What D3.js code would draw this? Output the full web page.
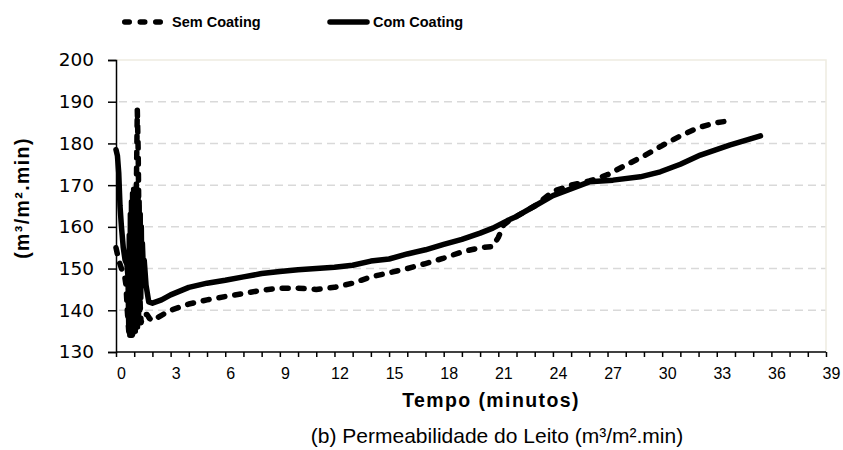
<!DOCTYPE html>
<html><head><meta charset="utf-8">
<script src="https://cdn.jsdelivr.net/npm/d3@7"></script>
<style>body{margin:0;background:#fff}svg{display:block}</style>
</head><body>
<svg id="c" width="843" height="450"></svg>
<script>
// ---- data ----
const seriesNames = ["Sem Coating", "Com Coating"];
const xTicks = [0,3,6,9,12,15,18,21,24,27,30,33,36,39];
const yTicks = [130,140,150,160,170,180,190,200];
const semCoatingT = [0,0.15,0.3,0.45,0.55,0.62,0.7,0.78,0.86,0.92,1.0,1.06,1.12,1.17,1.22,1.27,1.32,1.38,1.45,1.55,1.7,1.85,2.0,2.5,3,4,5,6,7,8,9,10,11,12,13,14,15,16,17,18,19,20,20.7,21.0,21.3,21.6,22,23,24,25,26,27,28,29,30,31,32,33,33.5];
const semCoatingV = [155,152,150,149,146,140,135,133.5,136,134,140,150,170,188,178,155,142,137,138.5,139,139,138,137.5,138.8,140,141.5,142.5,143.3,144,144.8,145.3,145.3,145,145.5,146.5,148,149,150,151.2,152.5,154,155,155.3,157.5,160.5,161.5,162.5,165,168.5,170,171,172.5,174.8,177,179.5,181.8,183.8,185,185.3];
const comCoatingT = [0,0.08,0.15,0.22,0.3,0.4,0.5,0.6,0.66,0.7,0.73,0.76,0.79,0.82,0.85,0.88,0.91,0.94,0.97,1.0,1.03,1.06,1.09,1.12,1.15,1.18,1.21,1.24,1.27,1.30,1.33,1.36,1.39,1.42,1.45,1.5,1.55,1.65,1.8,2.0,2.5,3,4,5,6,7,8,9,10,11,12,13,14,15,16,17,18,19,20,20.7,21.5,22,23,24,24.8,26,27.3,28.8,29.9,31,32.1,33.7,35.4];
const comCoatingV = [178.5,177,173,165,160,155,152,151,148,136,158,134,163,135,166,134,168,135,169,136,169,135,168,137,169,136,168,138,166,140,163,143,160,146,156,150,152,146,142,141.7,142.5,143.7,145.5,146.5,147.2,148,148.8,149.3,149.7,150,150.3,150.8,151.8,152.3,153.5,154.5,155.8,157,158.5,159.7,161.5,162.5,165,167.5,168.8,170.8,171.2,172,173.2,175,177.2,179.6,181.8];

const svg = d3.select("#c");
const L = 116, R = 826, T = 60, B = 352;
const x = d3.scaleLinear().domain([0,39]).range([L,R]);
const y = d3.scaleLinear().domain([130,200]).range([B,T]);

// grid
svg.append("g").selectAll("line").data(yTicks.filter(v=>v>130 && v<200)).join("line")
  .attr("x1", L+3).attr("x2", R).attr("y1", d=>y(d)).attr("y2", d=>y(d))
  .attr("stroke","#d9d9d9").attr("stroke-width",1.5).attr("stroke-dasharray","8,5");
// top/right border
svg.append("path").attr("d",`M${L},${T}H${R}V${B}`).attr("fill","none")
  .attr("stroke","#eeece1").attr("stroke-width",1.5);

// axes
const yAxis = d3.axisLeft(y).tickValues(yTicks).tickSize(8).tickFormat(d3.format("d"));
const gy = svg.append("g").attr("transform",`translate(${L},0)`).call(yAxis);
gy.select(".domain").attr("stroke","#000").attr("stroke-width",1.5);
gy.selectAll(".tick line").attr("stroke","#000").attr("stroke-width",1.5);
gy.selectAll("text").attr("font-family","'DejaVu Sans', Verdana, sans-serif").attr("font-size",18.5).attr("fill","#000").attr("x",-22);

const xAxis = d3.axisBottom(x).tickValues(d3.range(0,40)).tickSize(5).tickFormat(d=> xTicks.includes(d)? d : "");
const gx = svg.append("g").attr("transform",`translate(0,${B})`).call(xAxis);
gx.select(".domain").attr("stroke","#000").attr("stroke-width",1.5).attr("d",`M${L},0H${R}`);
gx.selectAll(".tick line").attr("stroke","#000").attr("stroke-width",1.5);
gx.selectAll("text").attr("font-family","'Liberation Sans', Arial, sans-serif")
  .attr("font-size",16).attr("fill","#000").attr("dx",5).attr("y",27).attr("dy",0);

// lines
const line = d3.line().x(d=>x(d[0])).y(d=>y(d[1]));
const semData = semCoatingT.map((t,i)=>[t,semCoatingV[i]]);
const comData = comCoatingT.map((t,i)=>[t,comCoatingV[i]]);
svg.append("path").datum(comData).attr("d",line).attr("fill","none").attr("stroke","#000")
  .attr("stroke-width",5.5).attr("stroke-linejoin","round").attr("stroke-linecap","round");
svg.append("path").datum(semData).attr("d",line).attr("fill","none").attr("stroke","#000")
  .attr("stroke-width",5.5).attr("stroke-linejoin","round").attr("stroke-linecap","round")
  .attr("stroke-dasharray","6,10");

// legend
const lg = svg.append("g").attr("font-family","'Liberation Sans Narrow', 'Liberation Sans', sans-serif")
  .attr("font-weight","bold").attr("font-size",14.5);
lg.append("line").attr("x1",124.75).attr("x2",160.5).attr("y1",22).attr("y2",22).attr("stroke","#000")
  .attr("stroke-width",5.5).attr("stroke-linecap","round").attr("stroke-dasharray","4.5,11");
lg.append("text").attr("x",172).attr("y",27).text(seriesNames[0]);
lg.append("line").attr("x1",330).attr("x2",367).attr("y1",22).attr("y2",22).attr("stroke","#000")
  .attr("stroke-width",5.5).attr("stroke-linecap","round");
lg.append("text").attr("x",373).attr("y",27).text(seriesNames[1]);

// titles
svg.append("text").attr("x",491).attr("y",407).attr("text-anchor","middle")
  .attr("font-family","'Liberation Sans', Arial, sans-serif")
  .attr("font-weight","bold").attr("font-size",19.5).attr("letter-spacing",1.4).text("Tempo (minutos)");
svg.append("text").attr("transform","translate(29,198) rotate(-90)").attr("text-anchor","middle")
  .attr("font-family","'Liberation Sans', Arial, sans-serif")
  .attr("font-weight","bold").attr("font-size",19.5).attr("letter-spacing",1.4).text("(m³/m².min)");
svg.append("text").attr("x",497).attr("y",443).attr("text-anchor","middle")
  .attr("font-family","'Liberation Sans', Arial, sans-serif").attr("font-size",21)
  .text("(b) Permeabilidade do Leito (m³/m².min)");
</script>
</body></html>
